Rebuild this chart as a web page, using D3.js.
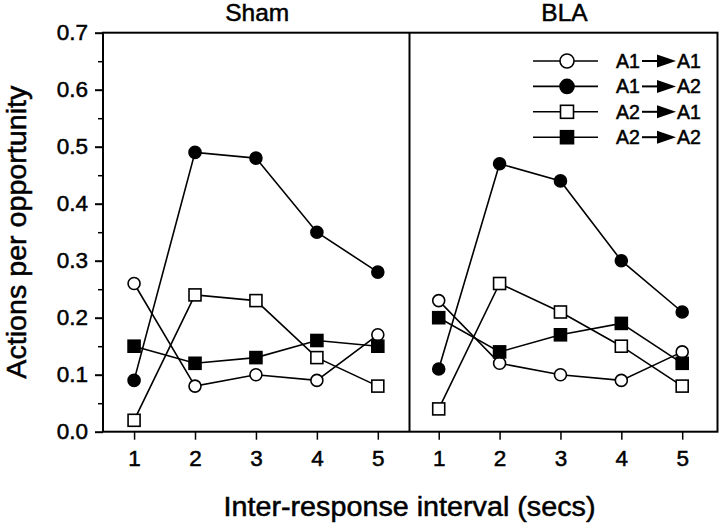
<!DOCTYPE html>
<html>
<head>
<meta charset="utf-8">
<script src="https://cdn.jsdelivr.net/npm/d3@7"></script>
<style>
  html, body { margin: 0; padding: 0; background: #fff; }
  svg { display: block; }
  text { font-family: "Liberation Sans", Arial, Helvetica, sans-serif; fill: #000; stroke: #000; stroke-width: 0.5px; }
</style>
</head>
<body>
<svg id="chart" width="720" height="527"></svg>
<script>
// ---------- data ----------
const intervals = [1, 2, 3, 4, 5];
const panels = ["Sham", "BLA"];
const seriesFrom = ["A1", "A1", "A2", "A2"];
const seriesTo   = ["A1", "A2", "A1", "A2"];
const seriesShape = ["circle", "circle", "square", "square"];
const seriesFilled = [false, true, false, true];

// Sham panel values (A1->A1, A1->A2, A2->A1, A2->A2)
const shamA1A1 = [0.26, 0.08, 0.10, 0.09, 0.17];
const shamA1A2 = [0.09, 0.49, 0.48, 0.35, 0.28];
const shamA2A1 = [0.02, 0.24, 0.23, 0.13, 0.08];
const shamA2A2 = [0.15, 0.12, 0.13, 0.16, 0.15];
// BLA panel values
const blaA1A1 = [0.23, 0.12, 0.10, 0.09, 0.14];
const blaA1A2 = [0.11, 0.47, 0.44, 0.30, 0.21];
const blaA2A1 = [0.04, 0.26, 0.21, 0.15, 0.08];
const blaA2A2 = [0.20, 0.14, 0.17, 0.19, 0.12];

const yTicks = [0.0, 0.1, 0.2, 0.3, 0.4, 0.5, 0.6, 0.7];
const yMinorTicks = [0.05, 0.15, 0.25, 0.35, 0.45, 0.55, 0.65];
const yLabel = "Actions per opportunity";
const xLabel = "Inter-response interval (secs)";

const panelData = [
  [shamA1A1, shamA1A2, shamA2A1, shamA2A2],
  [blaA1A1, blaA1A2, blaA2A1, blaA2A2]
];

// ---------- layout ----------
const svg = d3.select("#chart");
const pTop = 32.7, pBottom = 431.7, pLeft = 103, pMid = 409.5, pRight = 717.5;

const y = d3.scaleLinear().domain([0, 0.7]).range([pBottom, pTop]);
const xScales = [
  d3.scaleLinear().domain([0.49, 5.52]).range([pLeft, pMid]),
  d3.scaleLinear().domain([0.52, 5.58]).range([pMid, pRight])
];

// Y axis (major)
const yAxis = svg.append("g").attr("transform", `translate(${pLeft},0)`)
  .call(d3.axisLeft(y).tickValues(yTicks).tickFormat(d3.format(".1f")).tickSize(8).tickPadding(7).tickSizeOuter(0));
yAxis.select(".domain").remove();
yAxis.selectAll(".tick line").attr("stroke", "#000").attr("stroke-width", 2);
yAxis.selectAll(".tick text").style("font-size", "22.5px").attr("font-family", "Liberation Sans, Arial, sans-serif");

// Y minor ticks
const yMinor = svg.append("g").attr("transform", `translate(${pLeft},0)`)
  .call(d3.axisLeft(y).tickValues(yMinorTicks).tickFormat("").tickSize(5).tickSizeOuter(0));
yMinor.select(".domain").remove();
yMinor.selectAll(".tick line").attr("stroke", "#000").attr("stroke-width", 1.5);

// X axes
xScales.forEach(xs => {
  const g = svg.append("g").attr("transform", `translate(0,${pBottom})`)
    .call(d3.axisBottom(xs).tickValues(intervals).tickFormat(d3.format("d")).tickSize(8).tickPadding(10).tickSizeOuter(0));
  g.select(".domain").remove();
  g.selectAll(".tick line").attr("stroke", "#000").attr("stroke-width", 1.5);
  g.selectAll(".tick text").style("font-size", "22.5px").attr("font-family", "Liberation Sans, Arial, sans-serif");
});

// Frame
const frame = svg.append("g").attr("stroke", "#000").attr("stroke-width", 2).attr("fill", "none");
frame.append("rect").attr("x", pLeft).attr("y", pTop).attr("width", pRight - pLeft).attr("height", pBottom - pTop);
frame.append("line").attr("x1", pMid).attr("x2", pMid).attr("y1", pTop).attr("y2", pBottom);

// Panel titles
panels.forEach((p, i) => {
  const xs = xScales[i];
  svg.append("text")
    .attr("x", (xs.range()[0] + xs.range()[1]) / 2 + 1)
    .attr("y", 21)
    .attr("text-anchor", "middle")
    .style("font-size", "24.5px")
    .text(p);
});

// Axis labels
svg.append("text")
  .attr("transform", `translate(26,${(pTop + pBottom) / 2}) rotate(-90)`)
  .attr("text-anchor", "middle")
  .style("font-size", "27px")
  .attr("textLength", 293)
  .attr("lengthAdjust", "spacingAndGlyphs")
  .text(yLabel);

svg.append("text")
  .attr("x", pMid)
  .attr("y", 516)
  .attr("text-anchor", "middle")
  .style("font-size", "27px")
  .attr("textLength", 372)
  .attr("lengthAdjust", "spacingAndGlyphs")
  .text(xLabel);

// Marker drawing helper
function drawMarker(g, shape, filled, cx, cy, size) {
  if (shape === "circle") {
    g.append("circle").attr("cx", cx).attr("cy", cy).attr("r", size / 2)
      .attr("fill", filled ? "#000" : "#fff").attr("stroke", "#000").attr("stroke-width", 1.6);
  } else {
    g.append("rect").attr("x", cx - size / 2).attr("y", cy - size / 2)
      .attr("width", size).attr("height", size)
      .attr("fill", filled ? "#000" : "#fff").attr("stroke", "#000").attr("stroke-width", 1.6);
  }
}

// Data lines and markers
panelData.forEach((series, pi) => {
  const xs = xScales[pi];
  const line = d3.line().x((d, i) => xs(intervals[i])).y(d => y(d));
  const g = svg.append("g");
  series.forEach(vals => {
    g.append("path").datum(vals).attr("d", line)
      .attr("fill", "none").attr("stroke", "#000").attr("stroke-width", 1.6);
  });
  series.forEach((vals, si) => {
    vals.forEach((v, i) => {
      drawMarker(g, seriesShape[si], seriesFilled[si], xs(intervals[i]), y(v), 12);
    });
  });
});

// Legend
const legend = svg.append("g");
seriesFrom.forEach((from, i) => {
  const ry = 61 + i * 25.4;
  legend.append("line").attr("x1", 533).attr("x2", 598).attr("y1", ry).attr("y2", ry)
    .attr("stroke", "#000").attr("stroke-width", 1.6);
  drawMarker(legend, seriesShape[i], seriesFilled[i], 567, ry, seriesShape[i] === "circle" ? 14 : 13);
  legend.append("text").attr("x", 616).attr("y", ry + 7).style("font-size", "19.5px").text(from);
  // arrow
  legend.append("line").attr("x1", 642).attr("x2", 660).attr("y1", ry).attr("y2", ry)
    .attr("stroke", "#000").attr("stroke-width", 2);
  legend.append("path")
    .attr("d", `M${657},${ry - 6.5} L${676},${ry} L${657},${ry + 6.5} Z`)
    .attr("fill", "#000");
  legend.append("text").attr("x", 677).attr("y", ry + 7).style("font-size", "19.5px").text(seriesTo[i]);
});
</script>
</body>
</html>
